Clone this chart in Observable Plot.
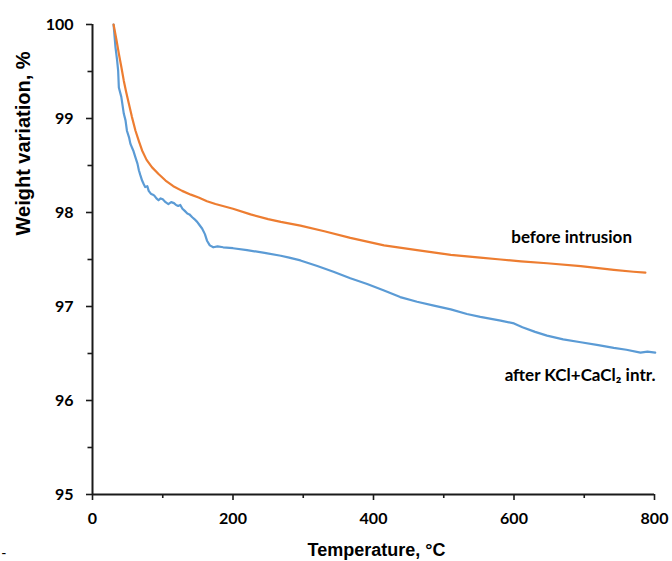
<!DOCTYPE html>
<html>
<head>
<meta charset="utf-8">
<script src="https://cdn.jsdelivr.net/npm/d3@7"></script>
<script src="https://cdn.jsdelivr.net/npm/@observablehq/plot@0.6"></script>
<style>
  html, body { margin: 0; padding: 0; background: #fff; }
  #chart svg { display: block; }
</style>
</head>
<body>
<div id="chart"></div>
<script>
// Temperature (°C) and weight variation (%)
const beforeT = [30, 34, 37.5, 41, 44.6, 48, 51.7, 56, 61.2, 66, 70.6, 77, 84.8, 94, 104, 115, 127.6, 140, 151, 163, 175, 200, 225, 250, 268, 296, 330, 367, 415, 462, 510, 552, 581, 610, 647, 695, 742, 770, 787];
const beforeW = [100, 99.84, 99.69, 99.55, 99.40, 99.28, 99.16, 99.02, 98.87, 98.76, 98.66, 98.56, 98.48, 98.41, 98.34, 98.28, 98.23, 98.19, 98.16, 98.12, 98.09, 98.04, 97.98, 97.93, 97.90, 97.86, 97.80, 97.73, 97.65, 97.60, 97.55, 97.52, 97.50, 97.48, 97.46, 97.43, 97.39, 97.37, 97.36];

const afterT = [30, 32.7, 35, 36.5, 37.5, 41, 44.6, 47, 49, 52, 54, 58, 61, 64, 66, 68, 70.6, 73, 75, 78, 80, 83, 86, 88, 91, 94, 97, 100, 104, 108, 112, 116, 119, 122, 125, 128, 131, 135, 138, 142, 145, 149, 152, 156, 160, 163, 167, 172, 178, 186, 200, 220, 245, 268, 280, 296, 320, 343, 367, 391, 415, 438, 462, 486, 510, 533, 552, 581, 600, 612, 630, 647, 670, 695, 720, 742, 760, 780, 790, 801];
const afterW = [100, 99.76, 99.62, 99.51, 99.33, 99.23, 99.05, 98.98, 98.87, 98.80, 98.73, 98.66, 98.59, 98.52, 98.45, 98.40, 98.34, 98.30, 98.27, 98.28, 98.23, 98.20, 98.19, 98.18, 98.15, 98.13, 98.15, 98.14, 98.11, 98.09, 98.11, 98.10, 98.08, 98.07, 98.08, 98.04, 98.02, 97.99, 97.98, 97.95, 97.93, 97.90, 97.87, 97.83, 97.77, 97.70, 97.65, 97.63, 97.64, 97.63, 97.62, 97.60, 97.57, 97.54, 97.52, 97.49, 97.43, 97.37, 97.30, 97.24, 97.17, 97.10, 97.05, 97.01, 96.97, 96.92, 96.89, 96.85, 96.82, 96.78, 96.73, 96.69, 96.65, 96.62, 96.59, 96.56, 96.54, 96.51, 96.52, 96.51];

const xTicks = [0, 200, 400, 600, 800];
const xMinorTicks = [100, 300, 500, 700];
const yTicks = [95, 96, 97, 98, 99, 100];
const yMinorTicks = [95.5, 96.5, 97.5, 98.5, 99.5];

const seriesNames = ["before intrusion", "after KCl+CaCl₂ intr."];
const seriesColors = ["#ED7D31", "#5B9BD5"];

const before = beforeT.map((t, i) => ({t, w: beforeW[i]}));
const after = afterT.map((t, i) => ({t, w: afterW[i]}));

const labelFont = "Lato, 'Open Sans', sans-serif";
const titleFont = "'Liberation Sans', Arial, sans-serif";
const axisColor = "#1a1a1a";

const chart = Plot.plot({
  width: 672,
  height: 561,
  marginLeft: 92,
  marginRight: 18,
  marginTop: 24,
  marginBottom: 67,
  x: {domain: [0, 800]},
  y: {domain: [95, 100]},
  style: {background: "#fff", color: axisColor},
  marks: [
    Plot.axisX({ticks: xTicks, tickSize: 6, tickPadding: 12, tickFormat: d => String(d), label: null, fontSize: 16, fontWeight: "bold", fontFamily: labelFont, stroke: axisColor, strokeWidth: 1.6, fill: "#000"}),
    Plot.axisX({ticks: xMinorTicks, tickSize: 4, tickFormat: () => "", label: null, stroke: axisColor, strokeWidth: 1.6}),
    Plot.axisY({ticks: yTicks, tickSize: 6, tickPadding: 13, tickFormat: d => String(d), label: null, fontSize: 16, fontWeight: "bold", fontFamily: labelFont, stroke: axisColor, strokeWidth: 1.6, fill: "#000"}),
    Plot.axisY({ticks: yMinorTicks, tickSize: 4.5, tickFormat: () => "", label: null, stroke: axisColor, strokeWidth: 1.6}),
    Plot.ruleX([0], {stroke: axisColor, strokeWidth: 2}),
    Plot.ruleY([95], {stroke: axisColor, strokeWidth: 2}),
    Plot.line(after, {x: "t", y: "w", stroke: seriesColors[1], strokeWidth: 2.2, strokeLinejoin: "round"}),
    Plot.line(before, {x: "t", y: "w", stroke: seriesColors[0], strokeWidth: 2.2, strokeLinejoin: "round"}),
    Plot.text([seriesNames[0]], {x: 682, y: 97.73, text: d => d, textAnchor: "middle", lineAnchor: "middle", fontSize: 17, fontWeight: "bold", fontFamily: labelFont, fill: "#000"}),
    Plot.text([seriesNames[1]], {x: 694, y: 96.27, text: d => d, textAnchor: "middle", lineAnchor: "middle", fontSize: 17, fontWeight: "bold", fontFamily: labelFont, fill: "#000"}),
    Plot.text(["Temperature, °C"], {frameAnchor: "bottom", text: d => d, dx: 3, dy: 56, lineAnchor: "middle", fontSize: 18, fontWeight: "bold", fontFamily: titleFont, fill: "#000"}),
    Plot.text(["Weight variation, %"], {frameAnchor: "left", text: d => d, rotate: -90, dx: -69, dy: -24, lineAnchor: "middle", fontSize: 20, fontWeight: "bold", fontFamily: titleFont, fill: "#000"}),
    Plot.text(["-"], {frameAnchor: "bottom-left", text: d => d, dx: -91, dy: 59, textAnchor: "start", lineAnchor: "middle", fontSize: 14, fontFamily: titleFont, fill: "#000"})
  ]
});
document.getElementById("chart").appendChild(chart);
</script>
</body>
</html>
